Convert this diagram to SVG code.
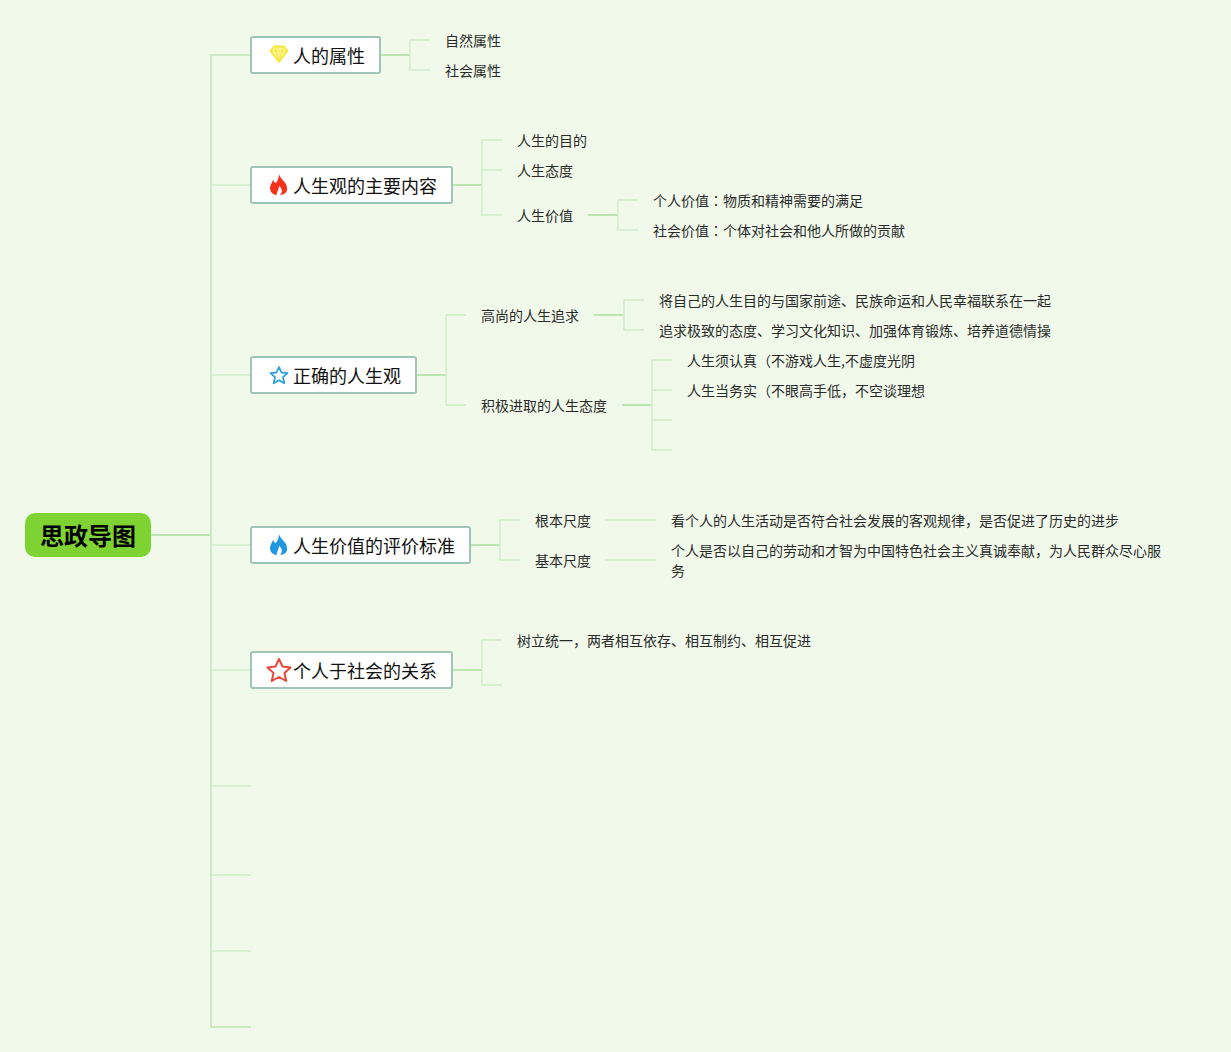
<svg xmlns="http://www.w3.org/2000/svg" width="1231" height="1052" viewBox="0 0 1231 1052">
<style>
text{font-family:"Noto Sans CJK SC","Noto Sans",sans-serif;fill:#111}
.t{font-size:18px}
.s{font-size:14px;fill:#2a2a2a}
.k{font-family:"Noto Sans CJK TC","Noto Sans",sans-serif}
.b{fill:#fff;stroke:#a0c5b8;stroke-width:2}
.c{fill:none;stroke:#cfedc8;stroke-width:1.5}
.m{fill:none;stroke:#bce7b3;stroke-width:2}
.r{fill:none;stroke:#cdeac4;stroke-width:2}
</style>
<rect width="1231" height="1052" fill="#f1faea"/>
<g id="connectors">
<path class="m" d="M151 535H211"/>
<path class="r" d="M251 55H211V1027H251"/>
<path class="c" d="M211 185H251M211 375H251M211 545H251M211 670H251M211 786H251M211 875H251M211 951H251"/>
<path class="m" d="M380 55H410"/>
<path class="c" d="M430 40H410V70H430"/>
<path class="m" d="M452 185H482"/>
<path class="c" d="M502 140H482V215H502M482 170H502"/>
<path class="m" d="M588 215H618"/>
<path class="c" d="M638 200H618V230H638"/>
<path class="m" d="M416 375H446"/>
<path class="c" d="M466 315H446V405H466"/>
<path class="m" d="M594 315H624"/>
<path class="c" d="M644 300H624V330H644"/>
<path class="m" d="M622 405H652"/>
<path class="c" d="M672 360H652V450H672M652 390H672M652 420H672"/>
<path class="m" d="M470 545H500"/>
<path class="c" d="M520 520H500V560H520"/>
<path class="c" d="M605 520H656M605 560H656"/>
<path class="m" d="M452 670H482"/>
<path class="c" d="M502 640H482V685H502"/>
</g>
<g id="root"><rect x="25" y="513" width="126" height="44" rx="10" fill="#7ed333"/><text x="40" y="545" font-size="24" font-weight="700" style="fill:#000">思政导图</text></g>
<g id="n1"><rect class="b" x="251" y="37" width="129" height="36" rx="2"/>
<path d="M274 46.500H284L287.500 51L279 62L270.500 51Z" fill="#fff58a" stroke="#f5e83c" stroke-width="1.800" stroke-linejoin="round"/><path d="M271 51H287M276 47L275.500 51L279 61L282.500 51L282 47" fill="none" stroke="#f5e83c"/>
<text class="t" x="293" y="63">人的属性</text></g>
<g id="n1a"><text class="s" x="445" y="46">自然属性</text></g>
<g id="n1b"><text class="s" x="445" y="76">社会属性</text></g>
<g id="n2"><rect class="b" x="251" y="167" width="201" height="36" rx="2"/>
<path d="M279 174C280 179 287 182 287 188C288 192 284 195 280 195C283 192 282 188 279 186C279 190 276 192 277 195C273 195 270 192 270 188C270 185 272 183 273 180C274 182 275 183 276 183C278 180 279 177 279 174Z" fill="#f5311d"/>
<text class="t" x="293" y="193">人生观的主要内容</text></g>
<g id="n2a"><text class="s" x="517" y="146">人生的目的</text></g>
<g id="n2b"><text class="s" x="517" y="176">人生态度</text></g>
<g id="n2c"><text class="s" x="517" y="221">人生价值</text></g>
<g id="n2c1"><text class="s" x="653" y="206">个人价值<tspan class="k">：</tspan>物质和精神需要的满足</text></g>
<g id="n2c2"><text class="s" x="653" y="236">社会价值<tspan class="k">：</tspan>个体对社会和他人所做的贡献</text></g>
<g id="n3"><rect class="b" x="251" y="357" width="165" height="36" rx="2"/>
<path d="M279 367L281.500 372.500L287.500 373.200L283 377.200L284.300 383.200L279 380.200L273.700 383.200L275 377.200L270.500 373.200L276.500 372.500Z" fill="none" stroke="#2e9fe0" stroke-width="1.800" stroke-linejoin="round"/>
<text class="t" x="293" y="383">正确的人生观</text></g>
<g id="n3a"><text class="s" x="481" y="321">高尚的人生追求</text></g>
<g id="n3a1"><text class="s" x="659" y="306">将自己的人生目的与国家前途、民族命运和人民幸福联系在一起</text></g>
<g id="n3a2"><text class="s" x="659" y="336">追求极致的态度、学习文化知识、加强体育锻炼、培养道德情操</text></g>
<g id="n3b"><text class="s" x="481" y="411">积极进取的人生态度</text></g>
<g id="n3b1"><text class="s" x="687" y="366">人生须认真（不游戏人生,不虚度光阴</text></g>
<g id="n3b2"><text class="s" x="687" y="396">人生当务实（不眼高手低，不空谈理想</text></g>
<g id="n4"><rect class="b" x="251" y="527" width="219" height="36" rx="2"/>
<path d="M279 534C280 539 287 542 287 548C288 552 284 555 280 555C283 552 282 548 279 546C279 550 276 552 277 555C273 555 270 552 270 548C270 545 272 543 273 540C274 542 275 543 276 543C278 540 279 537 279 534Z" fill="#2196e3"/>
<text class="t" x="293" y="553">人生价值的评价标准</text></g>
<g id="n4a"><text class="s" x="535" y="526">根本尺度</text></g>
<g id="n4a1"><text class="s" x="671" y="526">看个人的人生活动是否符合社会发展的客观规律，是否促进了历史的进步</text></g>
<g id="n4b"><text class="s" x="535" y="566">基本尺度</text></g>
<g id="n4b1"><text class="s" x="671" y="556">个人是否以自己的劳动和才智为中国特色社会主义真诚奉献，为人民群众尽心服</text><text class="s" x="671" y="576">务</text></g>
<g id="n5"><rect class="b" x="251" y="652" width="201" height="36" rx="2"/>
<path d="M279 659L282.500 666.500L290.500 667.500L284.500 673L286.200 681L279 677L271.800 681L273.500 673L267.500 667.500L275.500 666.500Z" fill="none" stroke="#e8493a" stroke-width="2" stroke-linejoin="round"/>
<text class="t" x="293" y="678">个人于社会的关系</text></g>
<g id="n5a"><text class="s" x="517" y="646">树立统一，两者相互依存、相互制约、相互促进</text></g>
</svg>
